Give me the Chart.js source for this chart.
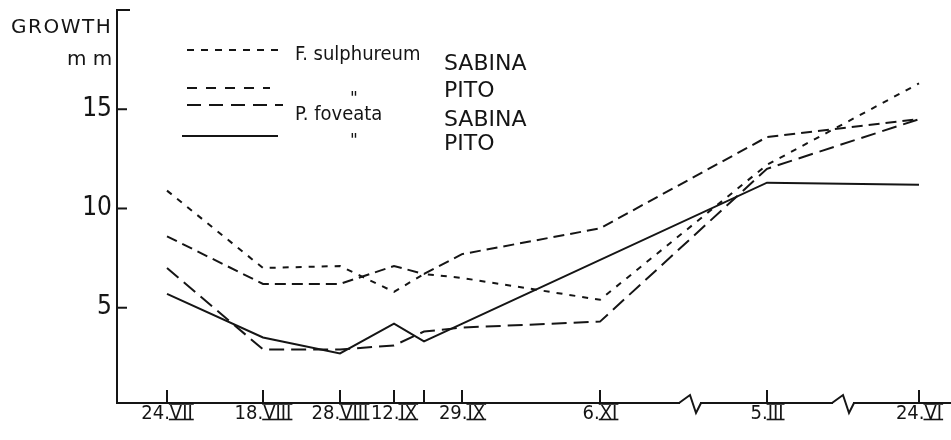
<!DOCTYPE html>
<html>
<head>
<meta charset="utf-8">
<title>Growth, mm</title>
<script src="https://cdn.jsdelivr.net/npm/chart.js@4.4.0/dist/chart.umd.min.js"></script>
<style>
  html, body { margin: 0; padding: 0; background: #fff; }
  canvas { display: block; }
</style>
</head>
<body>
<canvas id="growth-chart" width="951" height="440"></canvas>
<script>
// sampling dates; the time axis is broken twice, so dates sit at their drawn positions
const dateLabels = ['24.VII', '18.VIII', '28.VIII', '12.IX', '', '29.IX', '6.XI', '5.III', '24.VI'];
const datePositions = [50, 146, 223, 277, 307, 345, 483, 650, 802];
const axisBreaks = [573, 726];

const yTicks = [5, 10, 15];

// growth in mm
const sulphureumSabina = [10.9, 7.0, 7.1, 5.8, 6.7, 6.5, 5.4, 12.2, 16.3];
const sulphureumPito = [8.6, 6.2, 6.2, 7.1, 6.7, 7.7, 9.0, 13.6, 14.5];
const foveataSabina = [7.0, 2.9, 2.9, 3.1, 3.8, 4.0, 4.3, 12.0, 14.5];
const foveataPito = [5.7, 3.5, 2.7, 4.2, 3.3, null, null, 11.3, 11.2];

const speciesNames = ['F. sulphureum', '"', 'P. foveata', '"'];
const siteNames = ['SABINA', 'PITO', 'SABINA', 'PITO'];

const INK = '#151515';
const FONT = '"DejaVu Sans", sans-serif';
const FONT_NARROW = '"DejaVu Sans Condensed", "DejaVu Sans", sans-serif';

const dashes = [[6, 7], [11, 6], [15, 7], []];
const legendDashes = [[7, 7], [10, 9], [14, 8], []];

function toPoints(values) {
  return values.map((v, i) => ({ x: datePositions[i], y: v }));
}

function polyline(ctx, pts, dash) {
  ctx.setLineDash(dash || []);
  ctx.beginPath();
  pts.forEach(([px, py], i) => (i ? ctx.lineTo(px, py) : ctx.moveTo(px, py)));
  ctx.stroke();
}

// axes with inward ticks, breaks, roman-numeral date labels, title and legend
const axisDecor = {
  id: 'axisDecor',
  afterDraw(chart) {
    const { ctx, chartArea: a, scales } = chart;
    const xs = scales.x, ys = scales.y;
    ctx.save();
    ctx.strokeStyle = INK;
    ctx.fillStyle = INK;
    ctx.lineWidth = 2;
    ctx.lineCap = 'butt';

    // axis lines
    polyline(ctx, [[a.left + 13, a.top], [a.left, a.top], [a.left, a.bottom], [a.right, a.bottom]]);
    yTicks.forEach(v => {
      const py = ys.getPixelForValue(v);
      polyline(ctx, [[a.left, py], [a.left + 10, py]]);
    });
    datePositions.forEach(v => {
      const px = xs.getPixelForValue(v);
      polyline(ctx, [[px, a.bottom], [px, a.bottom - 13]]);
    });

    // breaks in the time axis
    axisBreaks.forEach(v => {
      const px = xs.getPixelForValue(v);
      ctx.fillStyle = '#fff';
      ctx.fillRect(px - 10, a.bottom - 3, 20, 6);
      ctx.fillStyle = INK;
      polyline(ctx, [[px - 11, a.bottom], [px, a.bottom - 8], [px + 6, a.bottom + 10], [px + 11, a.bottom]]);
    });

    // date labels: day, dot, roman month with bars above and below
    ctx.font = '20px ' + FONT_NARROW;
    ctx.textBaseline = 'alphabetic';
    ctx.textAlign = 'left';
    ctx.lineWidth = 1.6;
    const base = 419;
    dateLabels.forEach((lab, i) => {
      if (!lab) return;
      const [day, month] = lab.split('.');
      const head = day + '.';
      const w1 = ctx.measureText(head).width;
      const w2 = ctx.measureText(month).width;
      const x0 = xs.getPixelForValue(datePositions[i]) - (w1 + w2) / 2;
      ctx.fillText(head, x0, base);
      ctx.fillText(month, x0 + w1, base);
      polyline(ctx, [[x0 + w1 - 1, base - 15], [x0 + w1 + w2 + 1, base - 15]]);
      polyline(ctx, [[x0 + w1 - 1, base + 0.5], [x0 + w1 + w2 + 1, base + 0.5]]);
    });

    // axis title
    ctx.font = '20px ' + FONT;
    ctx.letterSpacing = '1.5px';
    ctx.fillText('GROWTH', 11, 33);
    ctx.letterSpacing = '0px';
    ctx.fillText('m m', 67, 65);

    // legend
    ctx.lineWidth = 2;
    const rows = [
      { ly: 50, x0: 187, x1: 285, ny: 60, sy: 70 },
      { ly: 88, x0: 187, x1: 270, ny: 104, sy: 97 },
      { ly: 105, x0: 187, x1: 283, ny: 120, sy: 126 },
      { ly: 136, x0: 182, x1: 278, ny: 146, sy: 150 }
    ];
    rows.forEach((r, i) => {
      polyline(ctx, [[r.x0, r.ly], [r.x1, r.ly]], legendDashes[i]);
      ctx.setLineDash([]);
      if (speciesNames[i] === '"') {
        ctx.font = '17px ' + FONT;
        ctx.fillText(speciesNames[i], 350, r.ny);
      } else {
        ctx.font = '20px ' + FONT_NARROW;
        ctx.fillText(speciesNames[i], 295, r.ny);
      }
      ctx.font = '22px ' + FONT;
      ctx.fillText(siteNames[i], 444, r.sy);
    });
    ctx.restore();
  }
};

const datasets = [sulphureumSabina, sulphureumPito, foveataSabina, foveataPito].map((vals, i) => ({
  label: (speciesNames[i] === '"' ? speciesNames[i - 1] : speciesNames[i]) + ' ' + siteNames[i],
  data: toPoints(vals),
  borderColor: INK,
  borderWidth: 2,
  borderDash: dashes[i],
  pointRadius: 0,
  tension: 0,
  spanGaps: true,
  fill: false
}));

new Chart(document.getElementById('growth-chart').getContext('2d'), {
  type: 'line',
  data: { datasets },
  options: {
    responsive: false,
    animation: false,
    devicePixelRatio: 1,
    layout: { padding: { top: 10, right: 0, left: 0, bottom: 0 } },
    plugins: { legend: { display: false }, tooltip: { enabled: false } },
    scales: {
      x: {
        type: 'linear',
        min: 0,
        max: 834,
        grid: { display: false },
        border: { display: false },
        ticks: { display: false },
        afterFit: s => { s.height = 37; }
      },
      y: {
        min: 0.2,
        max: 20,
        grid: { display: false, drawTicks: false },
        border: { display: false },
        afterBuildTicks: s => { s.ticks = yTicks.map(v => ({ value: v })); },
        ticks: { color: INK, padding: 5, font: { family: FONT_NARROW, size: 26 } },
        afterFit: s => { s.width = 117; s.paddingTop = 0; s.paddingBottom = 0; }
      }
    }
  },
  plugins: [axisDecor]
});
</script>
</body>
</html>
